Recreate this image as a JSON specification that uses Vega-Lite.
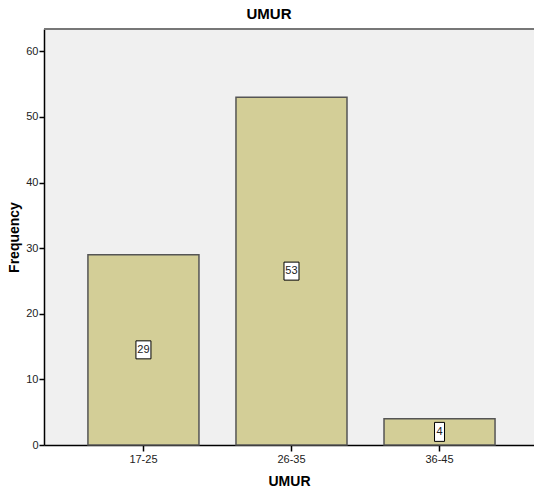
{
  "$schema": "https://vega.github.io/schema/vega-lite/v6.json",
  "autosize": {"type": "none"},
  "width": 490,
  "height": 416,
  "padding": {"left": 44, "top": 29, "right": 0, "bottom": 46},
  "background": "white",
  "config": {
    "font": "Liberation Sans",
    "view": {"fill": "#f0f0f0", "stroke": null}
  },
  "title": {
    "text": "UMUR",
    "fontSize": 15,
    "fontWeight": "bold",
    "color": "#000000",
    "anchor": "middle",
    "dx": -20,
    "offset": 6
  },
  "data": {
    "values": [
      {"UMUR": "17-25", "Frequency": 29},
      {"UMUR": "26-35", "Frequency": 53},
      {"UMUR": "36-45", "Frequency": 4}
    ]
  },
  "resolve": {"scale": {"y": "independent"}, "axis": {"y": "independent"}},
  "encoding": {
    "x": {
      "field": "UMUR",
      "type": "nominal",
      "sort": null,
      "scale": {"paddingInner": 0.25, "paddingOuter": 0.28, "align": 0.53},
      "axis": {
        "title": "UMUR",
        "titleFontSize": 14,
        "titleFontWeight": "bold",
        "titleColor": "#000000",
        "titlePadding": 10,
        "labelAngle": 0,
        "labelFontSize": 11,
        "labelColor": "#222222",
        "labelPadding": 2,
        "domainColor": "#000000",
        "domainWidth": 1.5,
        "tickColor": "#000000",
        "tickSize": 6,
        "tickWidth": 1.5
      }
    }
  },
  "layer": [
    {
      "mark": {"type": "bar", "fill": "#d3ce97", "stroke": "#555555", "strokeWidth": 1.5},
      "encoding": {
        "y": {
          "field": "Frequency",
          "type": "quantitative",
          "scale": {"domain": [0, 63.4], "nice": false},
          "axis": {
            "title": "Frequency",
            "titleFontSize": 14,
            "titleFontWeight": "bold",
            "titleColor": "#000000",
            "titlePadding": 4,
            "values": [0, 10, 20, 30, 40, 50, 60],
            "grid": false,
            "labelFontSize": 11,
            "labelColor": "#222222",
            "labelPadding": 1,
            "domainColor": "#000000",
            "domainWidth": 1.5,
            "tickColor": "#000000",
            "tickSize": 5,
            "tickWidth": 1.5
          }
        }
      }
    },
    {
      "mark": {"type": "rule", "color": "#777777", "strokeWidth": 2},
      "encoding": {
        "x": null,
        "y": {"datum": 63.4, "type": "quantitative", "scale": {"domain": [0, 63.4], "nice": false}, "axis": null}
      }
    },
    {
      "transform": [{"filter": "datum.Frequency >= 10"}],
      "mark": {
        "type": "point",
        "shape": "M-0.75,-0.9L0.75,-0.9L0.75,0.9L-0.75,0.9Z",
        "size": 400,
        "filled": true,
        "fill": "#ffffff",
        "stroke": "#000000",
        "strokeWidth": 1,
        "opacity": 1
      },
      "encoding": {
        "y": {"field": "Frequency", "type": "quantitative", "scale": {"domain": [0, 126.8], "nice": false}, "axis": null}
      }
    },
    {
      "transform": [{"filter": "datum.Frequency < 10"}],
      "mark": {
        "type": "point",
        "shape": "M-0.5,-0.95L0.5,-0.95L0.5,0.95L-0.5,0.95Z",
        "size": 400,
        "filled": true,
        "fill": "#ffffff",
        "stroke": "#000000",
        "strokeWidth": 1,
        "opacity": 1
      },
      "encoding": {
        "y": {"field": "Frequency", "type": "quantitative", "scale": {"domain": [0, 126.8], "nice": false}, "axis": null}
      }
    },
    {
      "mark": {"type": "text", "fontSize": 11, "color": "#222222", "baseline": "middle", "align": "center"},
      "encoding": {
        "y": {"field": "Frequency", "type": "quantitative", "scale": {"domain": [0, 126.8], "nice": false}, "axis": null},
        "text": {"field": "Frequency", "type": "quantitative"}
      }
    }
  ]
}
